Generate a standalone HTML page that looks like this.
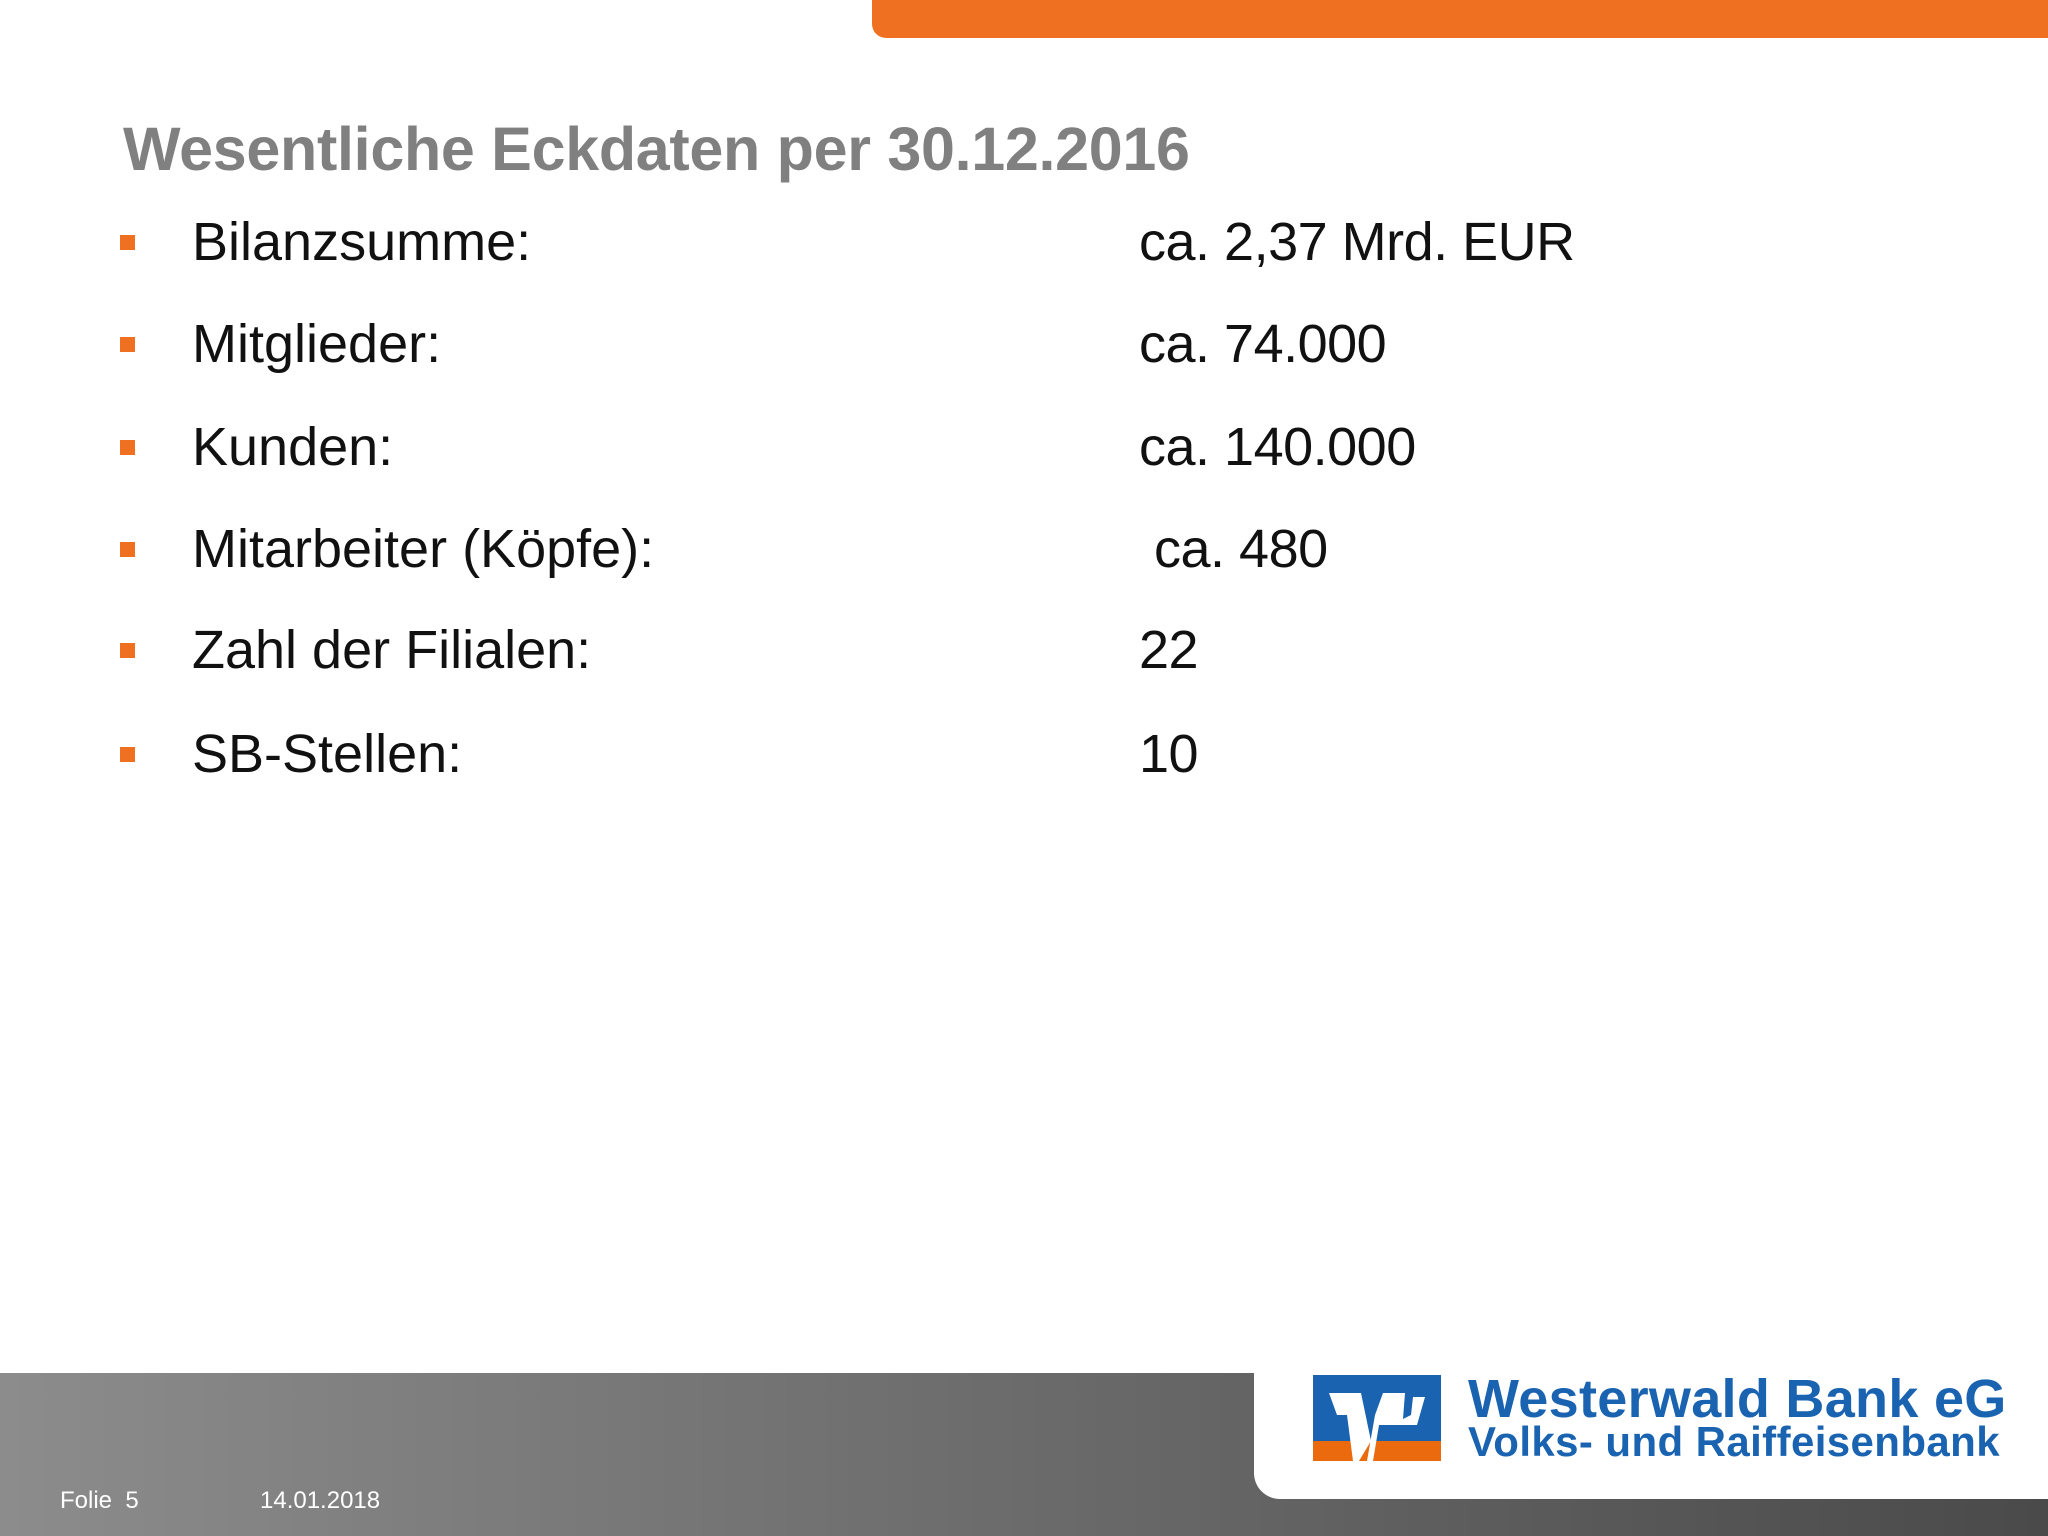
<!DOCTYPE html>
<html><head><meta charset="utf-8"><style>
body{margin:0;width:2048px;height:1536px;position:relative;overflow:hidden;background:#fff;font-family:"Liberation Sans",sans-serif}
.abs{position:absolute}
.row{position:absolute;left:0;font-size:54px;color:#111;height:70px;line-height:70px}
.sq{position:absolute;left:120px;width:15px;height:15px;background:#f07022;top:28px}
.lbl{position:absolute;left:192px;white-space:nowrap}
.val{position:absolute;left:1139px;white-space:nowrap;letter-spacing:-0.5px}
</style></head><body>
<div class="abs" style="left:872px;top:0;width:1176px;height:38px;background:#f07022;border-bottom-left-radius:14px"></div>
<div class="abs" style="left:123px;top:114px;font-size:61px;font-weight:bold;color:#808080;white-space:nowrap;letter-spacing:-0.3px">Wesentliche Eckdaten per 30.12.2016</div>

<div class="row" style="top:207px"><div class="sq"></div><span class="lbl">Bilanzsumme:</span><span class="val">ca. 2,37 Mrd. EUR</span></div>
<div class="row" style="top:309px"><div class="sq"></div><span class="lbl">Mitglieder:</span><span class="val">ca. 74.000</span></div>
<div class="row" style="top:412px"><div class="sq"></div><span class="lbl">Kunden:</span><span class="val">ca. 140.000</span></div>
<div class="row" style="top:514px"><div class="sq"></div><span class="lbl">Mitarbeiter (Köpfe):</span><span class="val" style="left:1154px">ca. 480</span></div>
<div class="row" style="top:615px"><div class="sq"></div><span class="lbl">Zahl der Filialen:</span><span class="val">22</span></div>
<div class="row" style="top:719px"><div class="sq"></div><span class="lbl">SB-Stellen:</span><span class="val">10</span></div>

<div class="abs" style="left:0;top:1373px;width:2048px;height:163px;background:linear-gradient(90deg,#8c8c8c,#4a4a4a)"></div>
<div class="abs" style="left:1254px;top:1373px;width:794px;height:126px;background:#fff;border-bottom-left-radius:26px"></div>
<svg class="abs" style="left:1313px;top:1375px" width="128" height="86" viewBox="0 0 128 86">
<rect x="0" y="0" width="128" height="66" fill="#1a63b0"/>
<rect x="0" y="66" width="128" height="20" fill="#ec6a0e"/>
<polygon points="16,18 48,18 58,66 46,86 40,86 34,40 24,40" fill="#fff"/>
<polygon points="70,18 92,18 90,44 98,40 100,22 112,22 104,50 66,50 60,86 54,86 62,40" fill="#fff"/>
</svg>
<div class="abs" style="left:1468px;top:1368px;font-size:54px;font-weight:bold;color:#1a63b0;white-space:nowrap;letter-spacing:0.3px">Westerwald Bank eG</div>
<div class="abs" style="left:1468px;top:1418px;font-size:42px;font-weight:bold;color:#1a63b0;white-space:nowrap;letter-spacing:0.4px">Volks- und Raiffeisenbank</div>
<div class="abs" style="left:60px;top:1487px;font-size:24px;color:#fff">Folie&nbsp; 5</div>
<div class="abs" style="left:260px;top:1487px;font-size:24px;color:#fff">14.01.2018</div>
</body></html>
